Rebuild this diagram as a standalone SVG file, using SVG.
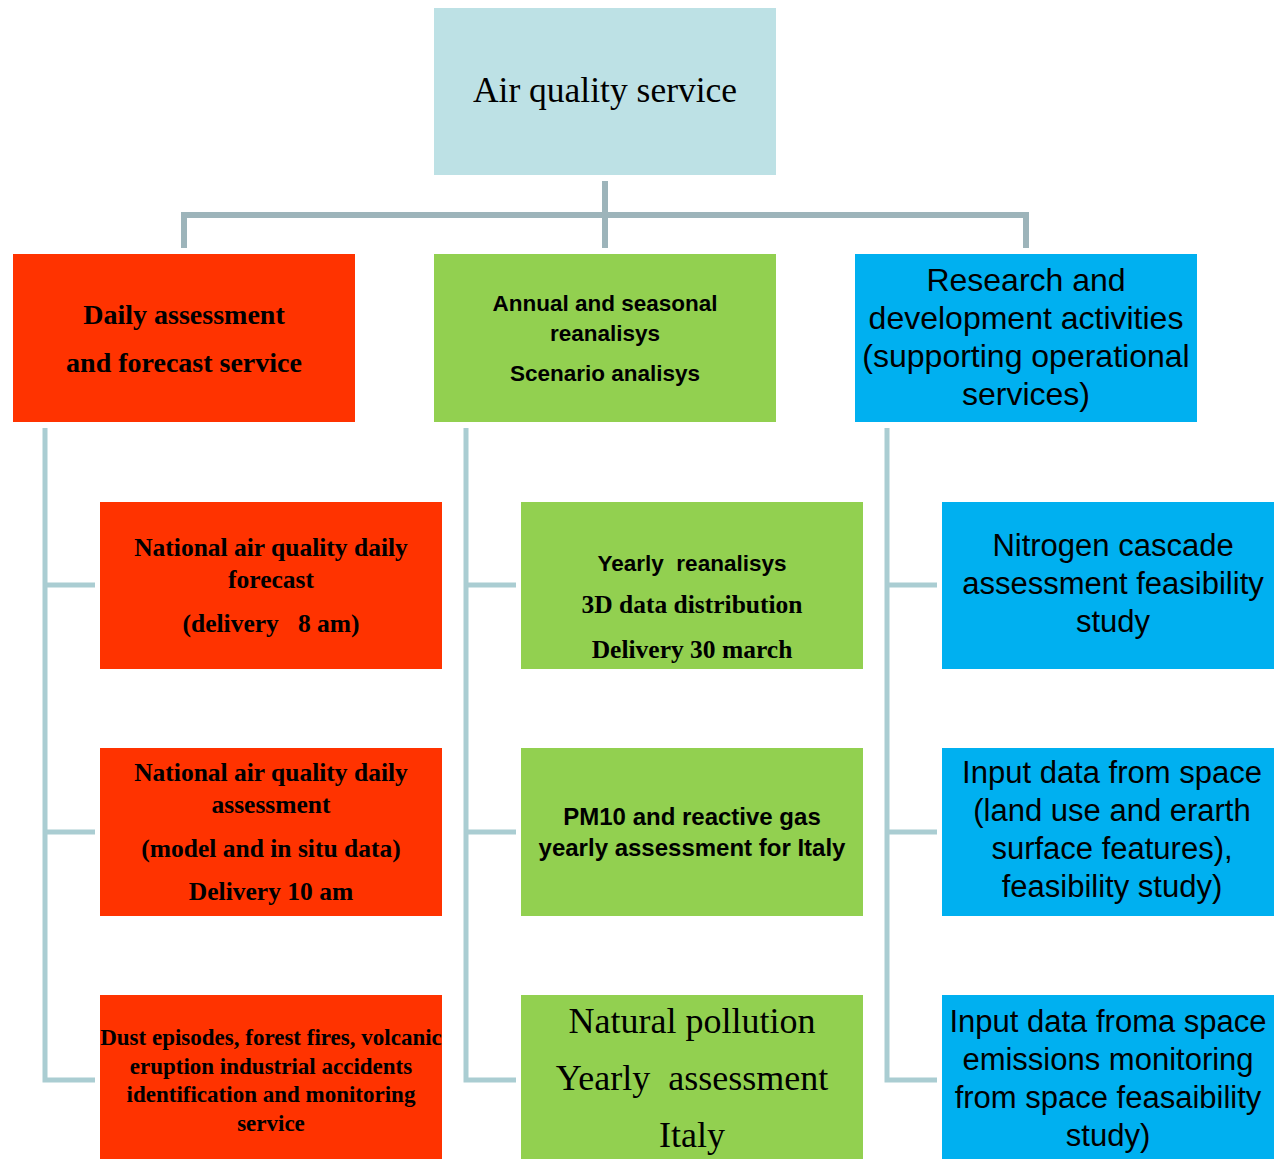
<svg xmlns="http://www.w3.org/2000/svg" width="1274" height="1159" viewBox="0 0 1274 1159">
<style>
.red{fill:#FF3300}
.green{fill:#92D050}
.blue{fill:#00B0F0}
.top{fill:#BDE1E5}
.serif{font-family:"Liberation Serif","DejaVu Serif",serif;fill:#000;text-anchor:middle}
.sans{font-family:"Liberation Sans","DejaVu Sans",sans-serif;fill:#000;text-anchor:middle}
.b{font-weight:bold}
.c1{fill:none;stroke:#9DB4BA;stroke-width:6}
.c2{fill:none;stroke:#AACDD2;stroke-width:5}
</style>
<rect width="1274" height="1159" fill="#fff"/>
<g id="connectors">
<path class="c1" d="M605 181V248M184 248V215H1026V248"/>
<path class="c2" d="M45 428V1080H95M45 585H95M45 832H95"/>
<path class="c2" d="M466 428V1080H516M466 585H516M466 832H516"/>
<path class="c2" d="M887 428V1080H937M887 585H937M887 832H937"/>
</g>
<g id="n-root">
<rect class="top" x="434" y="8" width="342" height="167"/>
<text class="serif" x="605" y="102" font-size="35.5">Air quality service</text>
</g>
<g id="n-daily">
<rect class="red" x="13" y="254" width="342" height="168"/>
<text class="serif b" x="184" y="324" font-size="28">Daily assessment</text>
<text class="serif b" x="184" y="372" font-size="28">and forecast service</text>
</g>
<g id="n-annual">
<rect class="green" x="434" y="254" width="342" height="168"/>
<text class="sans b" x="605" y="311" font-size="22.5">Annual and seasonal</text>
<text class="sans b" x="605" y="341" font-size="22.5">reanalisys</text>
<text class="sans b" x="605" y="381" font-size="22.5">Scenario analisys</text>
</g>
<g id="n-research">
<rect class="blue" x="855" y="254" width="342" height="168"/>
<text class="sans" x="1026" y="291" font-size="32">Research and</text>
<text class="sans" x="1026" y="329" font-size="32">development activities</text>
<text class="sans" x="1026" y="367" font-size="32">(supporting operational</text>
<text class="sans" x="1026" y="405" font-size="32">services)</text>
</g>
<g id="n-forecast">
<rect class="red" x="100" y="502" width="342" height="167"/>
<text class="serif b" x="271" y="556" font-size="25.5">National air quality daily</text>
<text class="serif b" x="271" y="588" font-size="25.5">forecast</text>
<text class="serif b" x="271" y="632" font-size="25.5" xml:space="preserve">(delivery   8 am)</text>
</g>
<g id="n-assessment">
<rect class="red" x="100" y="748" width="342" height="168"/>
<text class="serif b" x="271" y="781" font-size="25.5">National air quality daily</text>
<text class="serif b" x="271" y="813" font-size="25.5">assessment</text>
<text class="serif b" x="271" y="857" font-size="25.5">(model and in situ data)</text>
<text class="serif b" x="271" y="900" font-size="25.5">Delivery 10 am</text>
</g>
<g id="n-dust">
<rect class="red" x="100" y="995" width="342" height="164"/>
<text class="serif b" x="271" y="1045" font-size="23">Dust episodes, forest fires, volcanic</text>
<text class="serif b" x="271" y="1074" font-size="23">eruption industrial accidents</text>
<text class="serif b" x="271" y="1102" font-size="23">identification and monitoring</text>
<text class="serif b" x="271" y="1131" font-size="23">service</text>
</g>
<g id="n-yearly">
<rect class="green" x="521" y="502" width="342" height="167"/>
<text class="sans b" x="692" y="571" font-size="22.5" xml:space="preserve">Yearly  reanalisys</text>
<text class="serif b" x="692" y="613" font-size="25.5">3D data distribution</text>
<text class="serif b" x="692" y="658" font-size="25.5">Delivery 30 march</text>
</g>
<g id="n-pm10">
<rect class="green" x="521" y="748" width="342" height="168"/>
<text class="sans b" x="692" y="825" font-size="24">PM10 and reactive gas</text>
<text class="sans b" x="692" y="856" font-size="24">yearly assessment for Italy</text>
</g>
<g id="n-natural">
<rect class="green" x="521" y="995" width="342" height="164"/>
<text class="serif" x="692" y="1033" font-size="36">Natural pollution</text>
<text class="serif" x="692" y="1090" font-size="36" xml:space="preserve">Yearly  assessment</text>
<text class="serif" x="692" y="1147" font-size="36">Italy</text>
</g>
<g id="n-nitrogen">
<rect class="blue" x="942" y="502" width="332" height="167"/>
<text class="sans" x="1113" y="556" font-size="31">Nitrogen cascade</text>
<text class="sans" x="1113" y="594" font-size="31">assessment feasibility</text>
<text class="sans" x="1113" y="632" font-size="31">study</text>
</g>
<g id="n-input">
<rect class="blue" x="942" y="748" width="332" height="168"/>
<text class="sans" x="1112" y="783" font-size="31">Input data from space</text>
<text class="sans" x="1112" y="821" font-size="31">(land use and erarth</text>
<text class="sans" x="1112" y="859" font-size="31">surface features),</text>
<text class="sans" x="1112" y="897" font-size="31">feasibility study)</text>
</g>
<g id="n-emissions">
<rect class="blue" x="942" y="995" width="332" height="164"/>
<text class="sans" x="1108" y="1032" font-size="31">Input data froma space</text>
<text class="sans" x="1108" y="1070" font-size="31">emissions monitoring</text>
<text class="sans" x="1108" y="1108" font-size="31">from space feasaibility</text>
<text class="sans" x="1108" y="1146" font-size="31">study)</text>
</g>
</svg>
